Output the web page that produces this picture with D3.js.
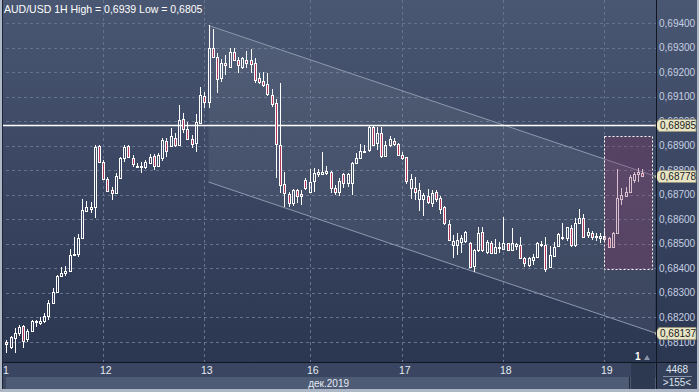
<!DOCTYPE html>
<html>
<head>
<meta charset="utf-8">
<script src="https://cdn.jsdelivr.net/npm/d3@7"></script>
<style>
  html, body { margin: 0; padding: 0; background: #aeb7c6; }
  svg { display: block; font-family: "Liberation Sans", Arial, sans-serif; }
</style>
</head>
<body>
<svg id="chart" width="699" height="392"></svg>
<script>
/* ── Data: hourly AUD/USD candles ─────────────────────────── */
const opens = [
  0.68101,0.68080,0.68118,0.68137,0.68165,0.68112,0.68145,0.68182,0.68179,0.68186,
  0.68206,0.68259,0.68305,0.68370,0.68382,0.68391,0.68455,0.68459,0.68523,0.68635,
  0.68641,0.68649,0.68900,0.68832,0.68763,0.68719,0.68706,0.68767,0.68849,0.68899,
  0.68851,0.68819,0.68812,0.68814,0.68831,0.68858,0.68817,0.68849,0.68920,0.68899,
  0.68930,0.68903,0.69008,0.68967,0.68927,0.68912,0.68994,0.69103,0.69079,0.69297,
  0.69263,0.69175,0.69238,0.69219,0.69283,0.69249,0.69219,0.69249,0.69249,0.69236,
  0.69175,0.69165,0.69151,0.69107,0.69075,0.68903,0.68744,0.68703,0.68668,0.68719,
  0.68695,0.68760,0.68713,0.68757,0.68785,0.68783,0.68788,0.68792,0.68726,0.68713,
  0.68783,0.68747,0.68749,0.68828,0.68849,0.68876,0.68882,0.68975,0.68910,0.68951,
  0.68858,0.68903,0.68920,0.68906,0.68862,0.68853,0.68726,0.68726,0.68682,0.68682,
  0.68695,0.68668,0.68713,0.68686,0.68649,0.68581,0.68495,0.68495,0.68509,0.68513,
  0.68505,0.68410,0.68475,0.68550,0.68468,0.68505,0.68462,0.68482,0.68478,0.68502,
  0.68475,0.68493,0.68495,0.68441,0.68414,0.68434,0.68448,0.68495,0.68495,0.68404,
  0.68451,0.68491,0.68523,0.68523,0.68563,0.68495,0.68586,0.68604,0.68536,0.68545,
  0.68532,0.68523,0.68532,0.68525,0.68486,0.68543,0.68682,0.68695,0.68713,0.68760,
  0.68783,0.68790
];
const highs = [
  0.68108,0.68124,0.68157,0.68169,0.68169,0.68153,0.68190,0.68190,0.68203,0.68218,
  0.68271,0.68320,0.68373,0.68407,0.68410,0.68478,0.68527,0.68540,0.68683,0.68675,
  0.68672,0.68903,0.68903,0.68842,0.68774,0.68733,0.68790,0.68855,0.68903,0.68903,
  0.68862,0.68828,0.68835,0.68842,0.68866,0.68866,0.68869,0.68930,0.68930,0.68971,
  0.68951,0.69066,0.69032,0.68998,0.68944,0.69029,0.69140,0.69120,0.69390,0.69374,
  0.69279,0.69252,0.69270,0.69297,0.69297,0.69260,0.69263,0.69287,0.69293,0.69256,
  0.69195,0.69202,0.69195,0.69130,0.69089,0.69154,0.68794,0.68713,0.68722,0.68722,
  0.68719,0.68767,0.68804,0.68808,0.68804,0.68876,0.68817,0.68798,0.68740,0.68767,
  0.68790,0.68788,0.68835,0.68872,0.68906,0.68903,0.68984,0.68980,0.68975,0.68975,
  0.68920,0.68940,0.68933,0.68910,0.68876,0.68855,0.68783,0.68774,0.68747,0.68706,
  0.68722,0.68719,0.68719,0.68695,0.68654,0.68597,0.68536,0.68543,0.68536,0.68554,
  0.68509,0.68478,0.68570,0.68570,0.68516,0.68512,0.68519,0.68509,0.68608,0.68505,
  0.68563,0.68505,0.68527,0.68448,0.68448,0.68459,0.68509,0.68513,0.68529,0.68491,
  0.68509,0.68545,0.68586,0.68570,0.68577,0.68604,0.68641,0.68622,0.68563,0.68554,
  0.68545,0.68543,0.68563,0.68529,0.68550,0.68804,0.68726,0.68731,0.68781,0.68794,
  0.68810,0.68804
];
const lows = [
  0.68057,0.68072,0.68055,0.68124,0.68077,0.68101,0.68141,0.68161,0.68169,0.68178,
  0.68190,0.68255,0.68304,0.68366,0.68369,0.68387,0.68451,0.68448,0.68522,0.68629,
  0.68627,0.68604,0.68834,0.68760,0.68713,0.68679,0.68705,0.68763,0.68835,0.68849,
  0.68814,0.68810,0.68788,0.68804,0.68828,0.68801,0.68814,0.68839,0.68855,0.68893,
  0.68896,0.68899,0.68951,0.68923,0.68889,0.68876,0.68988,0.69052,0.69052,0.69256,
  0.69116,0.69161,0.69188,0.69215,0.69246,0.69195,0.69211,0.69215,0.69195,0.69154,
  0.69151,0.69138,0.69103,0.69059,0.68767,0.68708,0.68651,0.68651,0.68654,0.68665,
  0.68658,0.68719,0.68708,0.68713,0.68774,0.68781,0.68781,0.68708,0.68699,0.68695,
  0.68726,0.68733,0.68699,0.68825,0.68846,0.68872,0.68876,0.68899,0.68882,0.68849,
  0.68854,0.68893,0.68899,0.68858,0.68842,0.68744,0.68682,0.68679,0.68634,0.68614,
  0.68661,0.68651,0.68672,0.68622,0.68577,0.68512,0.68441,0.68455,0.68464,0.68502,
  0.68404,0.68387,0.68468,0.68468,0.68459,0.68459,0.68459,0.68462,0.68475,0.68472,
  0.68472,0.68475,0.68437,0.68407,0.68407,0.68414,0.68445,0.68488,0.68387,0.68400,
  0.68448,0.68488,0.68516,0.68513,0.68488,0.68488,0.68584,0.68523,0.68523,0.68516,
  0.68513,0.68505,0.68513,0.68482,0.68482,0.68540,0.68658,0.68690,0.68708,0.68749,
  0.68753,0.68774
];
const closes = [
  0.68092,0.68120,0.68137,0.68161,0.68105,0.68145,0.68186,0.68184,0.68187,0.68206,
  0.68259,0.68305,0.68369,0.68382,0.68391,0.68455,0.68459,0.68523,0.68638,0.68649,
  0.68649,0.68893,0.68835,0.68763,0.68715,0.68706,0.68777,0.68849,0.68896,0.68855,
  0.68824,0.68814,0.68817,0.68832,0.68855,0.68817,0.68862,0.68923,0.68880,0.68940,
  0.68903,0.69005,0.68967,0.68927,0.68906,0.68995,0.69107,0.69079,0.69297,0.69260,
  0.69171,0.69236,0.69229,0.69283,0.69249,0.69229,0.69256,0.69238,0.69233,0.69168,
  0.69161,0.69147,0.69109,0.69070,0.68907,0.68740,0.68706,0.68668,0.68719,0.68695,
  0.68703,0.68726,0.68753,0.68788,0.68794,0.68792,0.68797,0.68726,0.68713,0.68757,
  0.68747,0.68785,0.68828,0.68851,0.68878,0.68880,0.68975,0.68903,0.68951,0.68859,
  0.68903,0.68926,0.68906,0.68862,0.68849,0.68757,0.68763,0.68713,0.68719,0.68699,
  0.68672,0.68706,0.68682,0.68641,0.68584,0.68516,0.68513,0.68516,0.68523,0.68550,
  0.68407,0.68475,0.68545,0.68475,0.68509,0.68464,0.68486,0.68488,0.68502,0.68475,
  0.68502,0.68499,0.68441,0.68423,0.68441,0.68448,0.68502,0.68499,0.68396,0.68455,
  0.68488,0.68539,0.68529,0.68567,0.68495,0.68586,0.68604,0.68529,0.68550,0.68529,
  0.68527,0.68532,0.68519,0.68486,0.68545,0.68686,0.68699,0.68713,0.68771,0.68785,
  0.68792,0.68778
];

/* ── Axis ticks and annotations ──────────────────────────── */
const priceTicks = [0.681,0.682,0.683,0.684,0.685,0.686,0.687,0.688,0.689,0.690,0.691,0.692,0.693,0.694];
const dayIndex   = [-1, 23, 47, 72, 94, 118, 142];   /* bar index where each day starts */
const dayLabels  = ["1", "12", "13", "16", "17", "18", "19"];
const monthLabel = "дек.2019";
const title      = "AUD/USD 1H High = 0,6939 Low = 0,6805";

const levelPrice     = 0.68985;                /* horizontal line */
const channelIndex   = [48, 154];
const channelTop     = [0.6939, 0.68776];
const channelBottom  = [0.68752, 0.68137];
const zoneIndex      = [141.9, 153.3];
const zonePrice      = [0.6894, 0.6840];
const barsTotal      = "4468";
const barsVisible    = ">155<";

/* ── Layout ──────────────────────────────────────────────── */
const W = 699, H = 392;
const PLOT_R = 656, PLOT_B = 362;
const RED = "#b3365c";

const svg = d3.select("#chart");
const x = d3.scaleLinear().domain([-1.5, 154]).range([0, 655]);
const y = d3.scaleLinear().domain([0.681, 0.694]).range([342, 23]);
const fmt = v => d3.format(".5f")(v).replace(".", ",");

const defs = svg.append("defs");
const bg = defs.append("linearGradient").attr("id", "bg").attr("x1", 0).attr("y1", 0).attr("x2", 0).attr("y2", 1);
bg.append("stop").attr("offset", "0%").attr("stop-color", "#4a5772");
bg.append("stop").attr("offset", "100%").attr("stop-color", "#2b3651");
defs.append("clipPath").attr("id", "plotClip")
  .append("rect").attr("x", 2).attr("y", 0).attr("width", PLOT_R - 2).attr("height", PLOT_B);

/* backgrounds */
svg.append("rect").attr("x", 0).attr("y", 0).attr("width", W).attr("height", H).attr("fill", "#aeb7c6");
svg.append("rect").attr("x", 2).attr("y", 0).attr("width", W - 4).attr("height", PLOT_B).attr("fill", "url(#bg)");

const plot = svg.append("g").attr("clip-path", "url(#plotClip)");

/* grid */
const grid = plot.append("g").attr("stroke", "#66738f").attr("stroke-dasharray", "3,3").attr("stroke-width", 1);
priceTicks.forEach(p => {
  const yy = Math.round(y(p)) + 0.5;
  grid.append("line").attr("x1", 0).attr("x2", PLOT_R).attr("y1", yy).attr("y2", yy);
});
dayIndex.forEach(i => {
  if (i < 0) return;
  const xx = Math.round(x(i)) + 0.5;
  grid.append("line").attr("x1", xx).attr("x2", xx).attr("y1", 0).attr("y2", PLOT_B);
});

/* channel */
const chPoly = [
  [x(channelIndex[0]), y(channelTop[0])],
  [x(channelIndex[1]), y(channelTop[1])],
  [x(channelIndex[1]), y(channelBottom[1])],
  [x(channelIndex[0]), y(channelBottom[0])]
];
plot.append("path").attr("d", d3.line()(chPoly) + "Z").attr("fill", "#ffffff").attr("fill-opacity", 0.06);
[channelTop, channelBottom].forEach(c => {
  plot.append("line")
    .attr("x1", x(channelIndex[0])).attr("y1", y(c[0]))
    .attr("x2", x(channelIndex[1])).attr("y2", y(c[1]))
    .attr("stroke", "#8d98b0").attr("stroke-width", 1);
});

/* horizontal level */
plot.append("line")
  .attr("x1", 0).attr("x2", PLOT_R)
  .attr("y1", Math.round(y(levelPrice)) + 0.5).attr("y2", Math.round(y(levelPrice)) + 0.5)
  .attr("stroke", "#ffffff").attr("stroke-width", 1.3);

/* candles */
const candles = plot.append("g").attr("shape-rendering", "crispEdges");
opens.forEach((o, i) => {
  const c = closes[i], hi = highs[i], lo = lows[i];
  const cx = Math.round(x(i));
  const top = Math.round(y(Math.max(o, c))) + 0.5;
  const bot = Math.max(Math.round(y(Math.min(o, c))) + 0.5, top + 1);
  const wx = cx + 0.5;
  const yh = Math.round(y(hi)), yl = Math.round(y(lo));
  if (yh < top) candles.append("line").attr("x1", wx).attr("x2", wx).attr("y1", yh).attr("y2", top).attr("stroke", "#fff");
  if (yl > bot) candles.append("line").attr("x1", wx).attr("x2", wx).attr("y1", bot).attr("y2", yl).attr("stroke", "#fff");
  candles.append("rect")
    .attr("x", cx - 0.5).attr("y", top)
    .attr("width", 2).attr("height", bot - top)
    .attr("fill", c >= o ? "none" : RED)
    .attr("stroke", "#fff").attr("stroke-width", 1);
});

/* highlighted zone */
plot.append("rect")
  .attr("x", Math.round(x(zoneIndex[0])) + 0.5).attr("y", Math.round(y(zonePrice[0])) + 0.5)
  .attr("width", Math.round(x(zoneIndex[1]) - x(zoneIndex[0])))
  .attr("height", Math.round(y(zonePrice[1]) - y(zonePrice[0])))
  .attr("fill", "#8a3562").attr("fill-opacity", 0.32)
  .attr("stroke", "#ffffff").attr("stroke-dasharray", "2,2");

/* title */
svg.append("text").attr("x", 4).attr("y", 13).attr("fill", "#ffffff")
  .attr("font-size", 10.5).text(title);

/* bottom marker "1" */
svg.append("text").attr("x", 635).attr("y", 360).attr("fill", "#ffffff")
  .attr("font-size", 10).attr("font-weight", "bold").text("1");
svg.append("path").attr("d", "M644,360 L650,360 L647,355 Z").attr("fill", "#8a94a8");

/* ── Right price axis ────────────────────────────────────── */
const axisG = svg.append("g").attr("font-size", 10).attr("fill", "#c6d0e2");
priceTicks.forEach(p => {
  axisG.append("text").attr("x", 659).attr("y", y(p)).attr("dy", "0.35em").text(fmt(p));
});

function priceTag(p) {
  const yc = Math.round(y(p)) + 0.5;
  const g = svg.append("g");
  g.append("path")
    .attr("d", `M655,${yc} L659,${yc - 6} L696,${yc - 6} L696,${yc + 6} L659,${yc + 6} Z`)
    .attr("fill", "#e8e5c6").attr("stroke", "#9a9878").attr("stroke-width", 0.8);
  g.append("text").attr("x", 660).attr("y", yc).attr("dy", "0.35em")
    .attr("font-size", 10).attr("fill", "#1c1c1c").text(fmt(p));
}
[levelPrice, closes[closes.length - 1], channelBottom[1]].forEach(priceTag);

/* ── Bottom time axis ────────────────────────────────────── */
svg.append("rect").attr("x", 2).attr("y", PLOT_B).attr("width", PLOT_R - 2).attr("height", 15).attr("fill", "#3a4661");
svg.append("rect").attr("x", 2).attr("y", 377).attr("width", PLOT_R - 2).attr("height", 12).attr("fill", "#4e5b75");
svg.append("rect").attr("x", 2).attr("y", 377).attr("width", 4).attr("height", 12).attr("fill", "#3c4862");
svg.append("rect").attr("x", 631).attr("y", PLOT_B).attr("width", 24).attr("height", 27).attr("fill", "#2d3851");
svg.append("line").attr("x1", 629.5).attr("x2", 629.5).attr("y1", 377).attr("y2", 389).attr("stroke", "#1f2738");

const tAxis = svg.append("g").attr("font-size", 10.5).attr("fill", "#e6ebf3");
dayIndex.forEach((i, k) => {
  tAxis.append("text").attr("x", Math.max(3, Math.round(x(i)) - 3)).attr("y", 374).text(dayLabels[k]);
});
tAxis.append("text").attr("x", 349).attr("y", 387).attr("text-anchor", "end").attr("font-size", 10).text(monthLabel);

/* bar count box */
svg.append("rect").attr("x", PLOT_R + 1).attr("y", PLOT_B).attr("width", W - PLOT_R - 3).attr("height", 27).attr("fill", "#34405a");
svg.append("text").attr("x", 677).attr("y", 373).attr("text-anchor", "middle").attr("font-size", 10).attr("fill", "#dfe5ee").text(barsTotal);
svg.append("line").attr("x1", 663).attr("x2", 692).attr("y1", 376.5).attr("y2", 376.5).attr("stroke", "#8290a8");
svg.append("text").attr("x", 677).attr("y", 386).attr("text-anchor", "middle").attr("font-size", 10).attr("fill", "#dfe5ee").text(barsVisible);

/* separators */
svg.append("line").attr("x1", PLOT_R + 0.5).attr("x2", PLOT_R + 0.5).attr("y1", 0).attr("y2", 389).attr("stroke", "#111722");
svg.append("line").attr("x1", 2).attr("x2", W - 2).attr("y1", PLOT_B + 0.5).attr("y2", PLOT_B + 0.5).attr("stroke", "#111722");
svg.append("line").attr("x1", 2.5).attr("x2", 2.5).attr("y1", 0).attr("y2", 389).attr("stroke", "#1d2536");
</script>
</body>
</html>
